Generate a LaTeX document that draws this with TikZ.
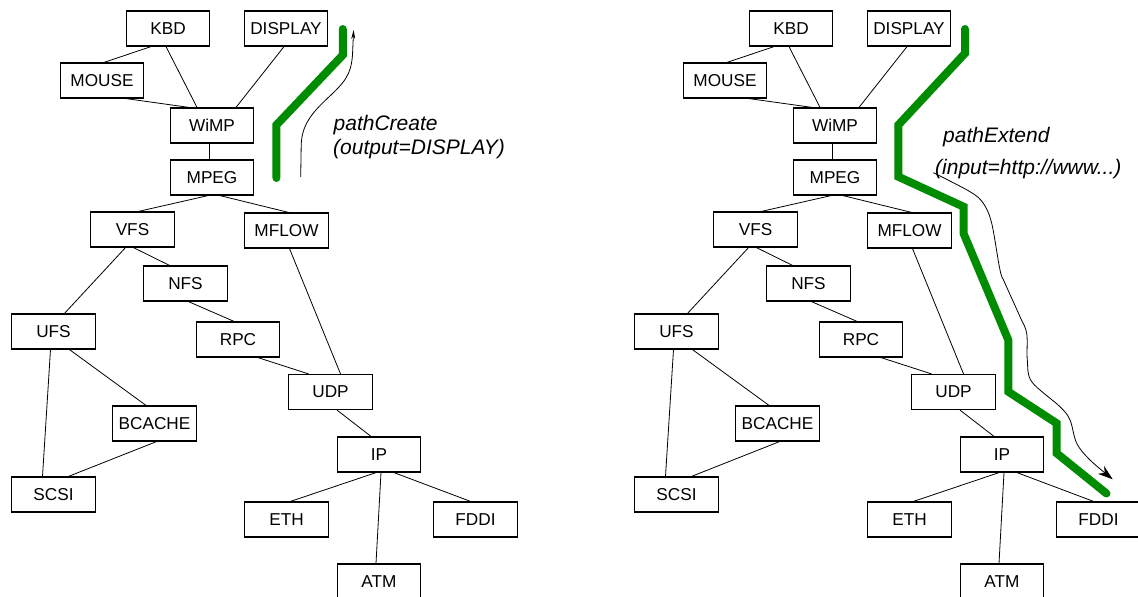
\documentclass[tikz,border=0pt]{standalone}
\usepackage{fontspec}
\setmainfont{Liberation Sans}
\usetikzlibrary{arrows.meta}
\definecolor{pathgreen}{RGB}{0,140,0}
\begin{document}
\begin{tikzpicture}[x=1pt,y=-1pt,
  box/.style={draw, line width=1.2pt, minimum width=83.5pt, minimum height=35pt, inner sep=0pt,
    font=\fontsize{17.2}{20}\selectfont},
  link/.style={line width=0.8pt},
  greenpath/.style={line width=8pt, pathgreen, line cap=round, line join=miter},
  flow/.style={line width=0.8pt},
  lbl/.style={anchor=base west, inner sep=0pt, font=\fontsize{21}{24}\selectfont\itshape}]
\useasboundingbox (0,0) rectangle (1138,597);
\foreach \s/\dx in {L/0,R/623}{
  \begin{scope}[xshift=\dx pt]
  \node[box] (\s kbd) at (168,28.5) {KBD};
  \node[box] (\s display) at (286,28.5) {DISPLAY};
  \node[box] (\s mouse) at (102,80.5) {MOUSE};
  \node[box] (\s wimp) at (212,125.5) {WiMP};
  \node[box] (\s mpeg) at (212,177.5) {MPEG};
  \node[box] (\s vfs) at (132.5,229.5) {VFS};
  \node[box] (\s mflow) at (286.5,230.5) {MFLOW};
  \node[box] (\s nfs) at (185.5,283.5) {NFS};
  \node[box] (\s ufs) at (53.5,331.5) {UFS};
  \node[box] (\s rpc) at (238,339.5) {RPC};
  \node[box] (\s udp) at (330.5,392) {UDP};
  \node[box] (\s bcache) at (154.5,423.5) {BCACHE};
  \node[box] (\s ip) at (379,454.5) {IP};
  \node[box] (\s scsi) at (53.5,494.5) {SCSI};
  \node[box] (\s eth) at (286.5,519.5) {ETH};
  \node[box] (\s fddi) at (475.5,519.5) {FDDI};
  \node[box] (\s atm) at (379,581.5) {ATM};
  \end{scope}
  \draw[link] ([xshift=-17pt]\s kbd.south) -- ([xshift=2pt]\s mouse.north);
  \draw[link] ([xshift=-2pt]\s kbd.south) -- ([xshift=-15pt]\s wimp.north);
  \draw[link] ([xshift=24pt]\s mouse.south) -- ([xshift=-23pt]\s wimp.north);
  \draw[link] ([xshift=-2pt]\s display.south) -- ([xshift=24pt]\s wimp.north);
  \draw[link] ([xshift=-2.5pt]\s wimp.south) -- ([xshift=-2.5pt]\s mpeg.north);
  \draw[link] ([xshift=-4pt]\s mpeg.south) -- ([xshift=6pt]\s vfs.north);
  \draw[link] ([xshift=8pt]\s mpeg.south) -- ([xshift=2pt]\s mflow.north);
  \draw[link] ([xshift=-7pt]\s vfs.south) -- ([xshift=11pt]\s ufs.north);
  \draw[link] ([xshift=1pt]\s vfs.south) -- ([xshift=-16pt]\s nfs.north);
  \draw[link] ([xshift=3pt]\s mflow.south) -- ([xshift=10pt]\s udp.north);
  \draw[link] ([xshift=3pt]\s nfs.south) -- ([xshift=-4pt]\s rpc.north);
  \draw[link] ([xshift=20pt]\s rpc.south) -- ([xshift=-22pt]\s udp.north);
  \draw[link] ([xshift=-3pt]\s ufs.south) -- ([xshift=-11pt]\s scsi.north);
  \draw[link] ([xshift=16pt]\s ufs.south) -- ([xshift=-8.5pt]\s bcache.north);
  \draw[link] ([xshift=2pt]\s bcache.south) -- ([xshift=15pt]\s scsi.north);
  \draw[link] ([xshift=6.5pt]\s udp.south) -- ([xshift=-8pt]\s ip.north);
  \draw[link] ([xshift=-3pt]\s ip.south) -- ([xshift=4pt]\s eth.north);
  \draw[link] ([xshift=2pt]\s ip.south) -- ([xshift=-3pt]\s atm.north);
  \draw[link] ([xshift=15pt]\s ip.south) -- ([xshift=-5pt]\s fddi.north);
}
% left: pathCreate
\coordinate (gcs) at (276.4,178);
\coordinate (gce) at (342.8,29);
\draw[greenpath] (gcs) -- (276.4,125) -- (342.8,55) -- (gce);
\coordinate (fcs) at (300.7,177);
\coordinate (fce) at (353.6,30);
\draw[flow,-{Stealth[length=9pt,width=4pt]}] (fcs) -- (301.2,145)
  .. controls (301.7,125) and (312,113) .. (326.7,99)
  .. controls (345,82) and (351,75) .. (352.5,55) -- (fce);
\node[lbl] (lcreate) at (333.5,130.5) {pathCreate};
\node[lbl] (lcreate2) at (333,154.5) {(output=DISPLAY)};
% right: pathExtend
\coordinate (ges) at (965,29);
\coordinate (gee) at (1106.5,493.5);
\draw[greenpath] (ges) -- (965,53.3) -- (898.3,125) -- (898.3,176.7) -- (963.5,206.7)
  -- (963.5,233.3) -- (1008.3,340) -- (1008.3,391.7) -- (1056.7,423.3) -- (1056.7,453.3) -- (gee);
\coordinate (fes) at (933.3,172.7);
\coordinate (fee) at (1112.7,479.3);
\draw[flow,-{Stealth[length=15pt,width=10pt]}] plot[smooth, tension=0.55] coordinates {
  (fes) (970,191.7) (983.3,203.3) (991.7,223.3) (1000,270) (1005,283.3) (1020,316.7)
  (1026.7,333.3) (1027.3,360) (1031.7,381.7) (1060,406.7) (1070,420) (1076.7,443.3)
  (1090,460) (fee)};
\node[lbl] (rext) at (943,142.5) {pathExtend};
\node[lbl] (rext2) at (935,174) {(input=http://www...)};
\end{tikzpicture}
\end{document}
